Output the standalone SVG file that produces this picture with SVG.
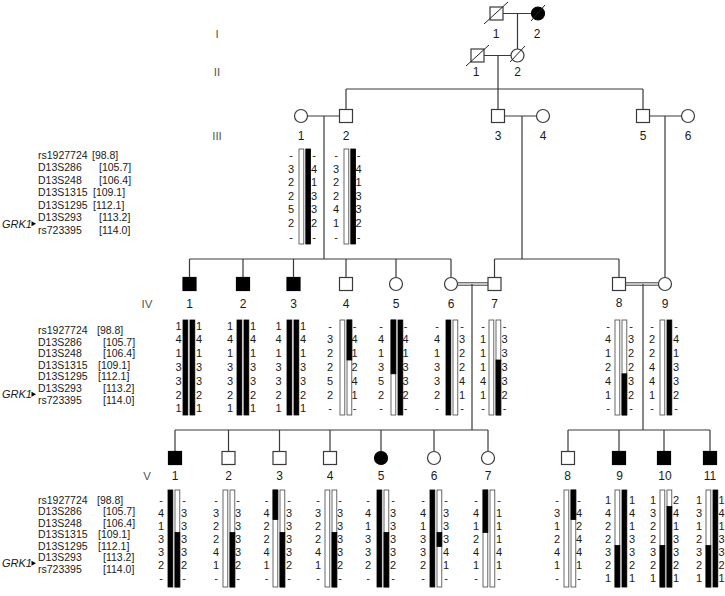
<svg xmlns="http://www.w3.org/2000/svg" width="725" height="596" viewBox="0 0 725 596">
<style>
.ln{stroke:#3a3a3a;stroke-width:1.2;fill:none}
.dbl{stroke:#3a3a3a;stroke-width:1;fill:none}
.sym{fill:#fff;stroke:#3a3a3a;stroke-width:1.2}
.aff{fill:#000;stroke:#000;stroke-width:1.2}
.sl{stroke:#222;stroke-width:1}
.bw{fill:#fff;stroke:#444;stroke-width:0.8}
.bb{fill:#000;stroke:#000;stroke-width:0.8}
text{font-family:"Liberation Sans",Arial,Helvetica,sans-serif;fill:#1a1a1a}
.al{font-size:11px;text-anchor:middle}
.mk{font-size:10.5px}
.id{font-size:12px;text-anchor:middle}
.gen{font-size:11.5px;text-anchor:middle;fill:#555}
.grk{font-size:11px;font-style:italic}
.arr{fill:#000}
</style>
<rect width="725" height="596" fill="#fff"/>

<g id="generation-labels">
<text class="gen" x="217" y="37.5">I</text>
<text class="gen" x="217" y="76">II</text>
<text class="gen" x="217" y="139.5">III</text>
<text class="gen" x="147" y="307.5">IV</text>
<text class="gen" x="147" y="480">V</text>
</g>

<g id="markers-III">
<text class="mk" x="38" y="158.5">rs1927724</text><text class="mk" x="92" y="158.5">[98.8]</text>
<text class="mk" x="38" y="171">D13S286</text><text class="mk" x="99" y="171">[105.7]</text>
<text class="mk" x="38" y="183.5">D13S248</text><text class="mk" x="99" y="183.5">[106.4]</text>
<text class="mk" x="38" y="196">D13S1315</text><text class="mk" x="93" y="196">[109.1]</text>
<text class="mk" x="38" y="208.5">D13S1295</text><text class="mk" x="93" y="208.5">[112.1]</text>
<text class="mk" x="38" y="221">D13S293</text><text class="mk" x="99" y="221">[113.2]</text>
<text class="mk" x="38" y="233.5">rs723395</text><text class="mk" x="99" y="233.5">[114.0]</text>
<text class="grk" x="2" y="227.7">GRK1</text><polygon class="arr" points="31.5,221.2 36,223.7 31.5,226.2"/>
</g>

<g id="markers-IV">
<text class="mk" x="38" y="334">rs1927724</text><text class="mk" x="97" y="334">[98.8]</text>
<text class="mk" x="38" y="345.6">D13S286</text><text class="mk" x="103" y="345.6">[105.7]</text>
<text class="mk" x="38" y="357.2">D13S248</text><text class="mk" x="103" y="357.2">[106.4]</text>
<text class="mk" x="38" y="368.8">D13S1315</text><text class="mk" x="98" y="368.8">[109.1]</text>
<text class="mk" x="38" y="380.4">D13S1295</text><text class="mk" x="98" y="380.4">[112.1]</text>
<text class="mk" x="38" y="392">D13S293</text><text class="mk" x="103" y="392">[113.2]</text>
<text class="mk" x="38" y="403.6">rs723395</text><text class="mk" x="103" y="403.6">[114.0]</text>
<text class="grk" x="2" y="398.3">GRK1</text><polygon class="arr" points="31.5,391.8 36,394.3 31.5,396.8"/>
</g>

<g id="markers-V">
<text class="mk" x="38" y="503.5">rs1927724</text><text class="mk" x="97" y="503.5">[98.8]</text>
<text class="mk" x="38" y="515">D13S286</text><text class="mk" x="103" y="515">[105.7]</text>
<text class="mk" x="38" y="526.5">D13S248</text><text class="mk" x="103" y="526.5">[106.4]</text>
<text class="mk" x="38" y="538">D13S1315</text><text class="mk" x="98" y="538">[109.1]</text>
<text class="mk" x="38" y="549.5">D13S1295</text><text class="mk" x="98" y="549.5">[112.1]</text>
<text class="mk" x="38" y="561">D13S293</text><text class="mk" x="103" y="561">[113.2]</text>
<text class="mk" x="38" y="572.5">rs723395</text><text class="mk" x="103" y="572.5">[114.0]</text>
<text class="grk" x="2" y="567.2">GRK1</text><polygon class="arr" points="31.5,560.7 36,563.2 31.5,565.7"/>
</g>

<g id="connectors">
<path class="ln" d="M503 13.5H531.5M517.5 13.5V49"/>
<path class="ln" d="M484 55.5H511M498 55.5V89"/>
<path class="ln" d="M346 89H643M346 89V109.5M498 89V109.5M643 89V109.5"/>
<path class="ln" d="M307.5 116H339.5M324 116V259"/>
<path class="ln" d="M504.5 116H536.5M522 116V259"/>
<path class="ln" d="M649.5 116H681.5M665 116V277.5"/>
<path class="ln" d="M189.5 259H451M189.5 259V277.5M243 259V277.5M293.5 259V277.5M346 259V277.5M396 259V277.5M451 259V277.5"/>
<path class="ln" d="M494.5 259H619M494.5 259V277.5M619 259V277.5"/>
<path class="dbl" d="M457.5 282.8H488M457.5 285.2H488"/>
<path class="ln" d="M472 284V430"/>
<path class="dbl" d="M625.5 282.8H658.5M625.5 285.2H658.5"/>
<path class="ln" d="M643 284V430"/>
<path class="ln" d="M175 430H488M175 430V451.5M228.5 430V451.5M279.5 430V451.5M330 430V451.5M381 430V451.5M434 430V451.5M488 430V451.5"/>
<path class="ln" d="M568 430H710M568 430V451.5M619 430V451.5M664 430V451.5M710 430V451.5"/>
</g>

<g id="I-1">
<rect class="sym" x="490" y="7" width="13" height="13"/>
<line class="sl" x1="484" y1="24" x2="508" y2="2"/>
<text class="id" x="496" y="37.5">1</text>
</g>
<g id="I-2">
<circle class="aff" cx="538" cy="13.5" r="6.5"/>
<line class="sl" x1="531" y1="21" x2="545" y2="5"/>
<text class="id" x="537" y="37.5">2</text>
</g>
<g id="II-1">
<rect class="sym" x="471" y="49" width="13" height="13"/>
<line class="sl" x1="466" y1="66" x2="489" y2="45"/>
<text class="id" x="476" y="76">1</text>
</g>
<g id="II-2">
<circle class="sym" cx="517.5" cy="55.5" r="6.5"/>
<line class="sl" x1="510" y1="62" x2="525" y2="46"/>
<text class="id" x="517.5" y="76">2</text>
</g>

<g id="III-1">
<circle class="sym" cx="301" cy="116" r="6.5"/>
<text class="id" x="301" y="139.5">1</text>
<rect class="bw" x="299" y="149" width="4.8" height="95"/>
<rect class="bb" x="305.8" y="149" width="4.8" height="95"/>
<text class="al"><tspan x="291" y="159">-</tspan><tspan x="291" y="172.6">3</tspan><tspan x="291" y="186.2">2</tspan><tspan x="291" y="199.8">2</tspan><tspan x="291" y="213.4">5</tspan><tspan x="291" y="227">2</tspan><tspan x="291" y="240.6">-</tspan></text>
<text class="al"><tspan x="314" y="159">-</tspan><tspan x="314" y="172.6">4</tspan><tspan x="314" y="186.2">1</tspan><tspan x="314" y="199.8">3</tspan><tspan x="314" y="213.4">3</tspan><tspan x="314" y="227">2</tspan><tspan x="314" y="240.6">-</tspan></text>
</g>
<g id="III-2">
<rect class="sym" x="339.5" y="109.5" width="13" height="13"/>
<text class="id" x="346" y="139.5">2</text>
<rect class="bw" x="344" y="149" width="4.8" height="95"/>
<rect class="bb" x="350.8" y="149" width="4.8" height="95"/>
<text class="al"><tspan x="336" y="159">-</tspan><tspan x="336" y="172.6">3</tspan><tspan x="336" y="186.2">2</tspan><tspan x="336" y="199.8">2</tspan><tspan x="336" y="213.4">4</tspan><tspan x="336" y="227">1</tspan><tspan x="336" y="240.6">-</tspan></text>
<text class="al"><tspan x="358.5" y="159">-</tspan><tspan x="358.5" y="172.6">4</tspan><tspan x="358.5" y="186.2">1</tspan><tspan x="358.5" y="199.8">3</tspan><tspan x="358.5" y="213.4">3</tspan><tspan x="358.5" y="227">2</tspan><tspan x="358.5" y="240.6">-</tspan></text>
</g>
<g id="III-3">
<rect class="sym" x="491.5" y="109.5" width="13" height="13"/>
<text class="id" x="498" y="139.5">3</text>
</g>
<g id="III-4">
<circle class="sym" cx="543" cy="116" r="6.5"/>
<text class="id" x="543" y="139.5">4</text>
</g>
<g id="III-5">
<rect class="sym" x="636.5" y="109.5" width="13" height="13"/>
<text class="id" x="643" y="139.5">5</text>
</g>
<g id="III-6">
<circle class="sym" cx="688" cy="116" r="6.5"/>
<text class="id" x="688" y="139.5">6</text>
</g>

<g id="IV-1">
<rect class="aff" x="183" y="277.5" width="13" height="13"/>
<text class="id" x="189.5" y="307.5">1</text>
<rect class="bb" x="183" y="320" width="4.8" height="95"/>
<rect class="bb" x="190" y="320" width="4.8" height="95"/>
<text class="al"><tspan x="178.5" y="329.5">1</tspan><tspan x="178.5" y="343.3">4</tspan><tspan x="178.5" y="357.1">1</tspan><tspan x="178.5" y="370.9">3</tspan><tspan x="178.5" y="384.7">3</tspan><tspan x="178.5" y="398.5">2</tspan><tspan x="178.5" y="412.3">1</tspan></text>
<text class="al"><tspan x="199" y="329.5">1</tspan><tspan x="199" y="343.3">4</tspan><tspan x="199" y="357.1">1</tspan><tspan x="199" y="370.9">3</tspan><tspan x="199" y="384.7">3</tspan><tspan x="199" y="398.5">2</tspan><tspan x="199" y="412.3">1</tspan></text>
</g>
<g id="IV-2">
<rect class="aff" x="236.5" y="277.5" width="13" height="13"/>
<text class="id" x="243" y="307.5">2</text>
<rect class="bb" x="237" y="320" width="4.8" height="95"/>
<rect class="bb" x="244" y="320" width="4.8" height="95"/>
<text class="al"><tspan x="230" y="329.5">1</tspan><tspan x="230" y="343.3">4</tspan><tspan x="230" y="357.1">1</tspan><tspan x="230" y="370.9">3</tspan><tspan x="230" y="384.7">3</tspan><tspan x="230" y="398.5">2</tspan><tspan x="230" y="412.3">1</tspan></text>
<text class="al"><tspan x="253" y="329.5">1</tspan><tspan x="253" y="343.3">4</tspan><tspan x="253" y="357.1">1</tspan><tspan x="253" y="370.9">3</tspan><tspan x="253" y="384.7">3</tspan><tspan x="253" y="398.5">2</tspan><tspan x="253" y="412.3">1</tspan></text>
</g>
<g id="IV-3">
<rect class="aff" x="287" y="277.5" width="13" height="13"/>
<text class="id" x="293.5" y="307.5">3</text>
<rect class="bb" x="287" y="320" width="4.8" height="95"/>
<rect class="bb" x="294" y="320" width="4.8" height="95"/>
<text class="al"><tspan x="278.5" y="329.5">1</tspan><tspan x="278.5" y="343.3">4</tspan><tspan x="278.5" y="357.1">1</tspan><tspan x="278.5" y="370.9">3</tspan><tspan x="278.5" y="384.7">3</tspan><tspan x="278.5" y="398.5">2</tspan><tspan x="278.5" y="412.3">1</tspan></text>
<text class="al"><tspan x="303" y="329.5">1</tspan><tspan x="303" y="343.3">4</tspan><tspan x="303" y="357.1">1</tspan><tspan x="303" y="370.9">3</tspan><tspan x="303" y="384.7">3</tspan><tspan x="303" y="398.5">2</tspan><tspan x="303" y="412.3">1</tspan></text>
</g>
<g id="IV-4">
<rect class="sym" x="339.5" y="277.5" width="13" height="13"/>
<text class="id" x="346" y="307.5">4</text>
<rect class="bw" x="340" y="320" width="4.8" height="95"/>
<rect class="bw" x="347" y="320" width="4.8" height="95"/>
<rect class="bb" x="347" y="320" width="4.8" height="40"/>
<text class="al"><tspan x="330" y="329.5">-</tspan><tspan x="330" y="343.3">3</tspan><tspan x="330" y="357.1">2</tspan><tspan x="330" y="370.9">2</tspan><tspan x="330" y="384.7">5</tspan><tspan x="330" y="398.5">2</tspan><tspan x="330" y="412.3">-</tspan></text>
<text class="al"><tspan x="354.5" y="329.5">-</tspan><tspan x="354.5" y="343.3">4</tspan><tspan x="354.5" y="357.1">1</tspan><tspan x="354.5" y="370.9">2</tspan><tspan x="354.5" y="384.7">4</tspan><tspan x="354.5" y="398.5">1</tspan><tspan x="354.5" y="412.3">-</tspan></text>
</g>
<g id="IV-5">
<circle class="sym" cx="396" cy="284" r="6.5"/>
<text class="id" x="396" y="307.5">5</text>
<rect class="bw" x="391" y="320" width="4.8" height="95"/>
<rect class="bb" x="391" y="320" width="4.8" height="53.8"/>
<rect class="bb" x="398" y="320" width="4.8" height="95"/>
<text class="al"><tspan x="381" y="329.5">-</tspan><tspan x="381" y="343.3">4</tspan><tspan x="381" y="357.1">1</tspan><tspan x="381" y="370.9">3</tspan><tspan x="381" y="384.7">5</tspan><tspan x="381" y="398.5">2</tspan><tspan x="381" y="412.3">-</tspan></text>
<text class="al"><tspan x="405.5" y="329.5">-</tspan><tspan x="405.5" y="343.3">4</tspan><tspan x="405.5" y="357.1">1</tspan><tspan x="405.5" y="370.9">3</tspan><tspan x="405.5" y="384.7">3</tspan><tspan x="405.5" y="398.5">2</tspan><tspan x="405.5" y="412.3">-</tspan></text>
</g>
<g id="IV-6">
<circle class="sym" cx="451" cy="284" r="6.5"/>
<text class="id" x="451" y="307.5">6</text>
<rect class="bb" x="446" y="320" width="4.8" height="95"/>
<rect class="bw" x="453" y="320" width="4.8" height="95"/>
<text class="al"><tspan x="437" y="329.5">-</tspan><tspan x="437" y="343.3">4</tspan><tspan x="437" y="357.1">1</tspan><tspan x="437" y="370.9">3</tspan><tspan x="437" y="384.7">3</tspan><tspan x="437" y="398.5">2</tspan><tspan x="437" y="412.3">-</tspan></text>
<text class="al"><tspan x="462" y="329.5">-</tspan><tspan x="462" y="343.3">3</tspan><tspan x="462" y="357.1">2</tspan><tspan x="462" y="370.9">2</tspan><tspan x="462" y="384.7">4</tspan><tspan x="462" y="398.5">1</tspan><tspan x="462" y="412.3">-</tspan></text>
</g>
<g id="IV-7">
<rect class="sym" x="488" y="277.5" width="13" height="13"/>
<text class="id" x="494.5" y="307.5">7</text>
<rect class="bw" x="489" y="320" width="4.8" height="95"/>
<rect class="bw" x="496" y="320" width="4.8" height="95"/>
<rect class="bb" x="496" y="360" width="4.8" height="55"/>
<text class="al"><tspan x="483" y="329.5">-</tspan><tspan x="483" y="343.3">1</tspan><tspan x="483" y="357.1">1</tspan><tspan x="483" y="370.9">1</tspan><tspan x="483" y="384.7">4</tspan><tspan x="483" y="398.5">1</tspan><tspan x="483" y="412.3">-</tspan></text>
<text class="al"><tspan x="504.5" y="329.5">-</tspan><tspan x="504.5" y="343.3">3</tspan><tspan x="504.5" y="357.1">3</tspan><tspan x="504.5" y="370.9">3</tspan><tspan x="504.5" y="384.7">3</tspan><tspan x="504.5" y="398.5">2</tspan><tspan x="504.5" y="412.3">-</tspan></text>
</g>
<g id="IV-8">
<rect class="sym" x="612.5" y="277.5" width="13" height="13"/>
<text class="id" x="619" y="306.5">8</text>
<rect class="bw" x="615" y="320" width="4.8" height="95"/>
<rect class="bw" x="622" y="320" width="4.8" height="95"/>
<rect class="bb" x="622" y="373.8" width="4.8" height="41.2"/>
<text class="al"><tspan x="608" y="329.5">-</tspan><tspan x="608" y="343.3">4</tspan><tspan x="608" y="357.1">1</tspan><tspan x="608" y="370.9">2</tspan><tspan x="608" y="384.7">4</tspan><tspan x="608" y="398.5">1</tspan><tspan x="608" y="412.3">-</tspan></text>
<text class="al"><tspan x="631" y="329.5">-</tspan><tspan x="631" y="343.3">3</tspan><tspan x="631" y="357.1">2</tspan><tspan x="631" y="370.9">2</tspan><tspan x="631" y="384.7">3</tspan><tspan x="631" y="398.5">2</tspan><tspan x="631" y="412.3">-</tspan></text>
</g>
<g id="IV-9">
<circle class="sym" cx="665" cy="284" r="6.5"/>
<text class="id" x="665" y="307.5">9</text>
<rect class="bw" x="660" y="320" width="4.8" height="95"/>
<rect class="bb" x="667" y="320" width="4.8" height="95"/>
<text class="al"><tspan x="652" y="329.5">-</tspan><tspan x="652" y="343.3">2</tspan><tspan x="652" y="357.1">2</tspan><tspan x="652" y="370.9">4</tspan><tspan x="652" y="384.7">4</tspan><tspan x="652" y="398.5">1</tspan><tspan x="652" y="412.3">-</tspan></text>
<text class="al"><tspan x="676" y="329.5">-</tspan><tspan x="676" y="343.3">4</tspan><tspan x="676" y="357.1">1</tspan><tspan x="676" y="370.9">3</tspan><tspan x="676" y="384.7">3</tspan><tspan x="676" y="398.5">2</tspan><tspan x="676" y="412.3">-</tspan></text>
</g>

<g id="V-1">
<rect class="aff" x="168.5" y="451.5" width="13" height="13"/>
<text class="id" x="175" y="480">1</text>
<rect class="bb" x="168" y="490" width="4.8" height="97"/>
<rect class="bw" x="175" y="490" width="4.8" height="97"/>
<rect class="bb" x="175" y="532.5" width="4.8" height="54.5"/>
<text class="al"><tspan x="161" y="504">-</tspan><tspan x="161" y="517">4</tspan><tspan x="161" y="530">1</tspan><tspan x="161" y="543">3</tspan><tspan x="161" y="556">3</tspan><tspan x="161" y="569">2</tspan><tspan x="161" y="582">-</tspan></text>
<text class="al"><tspan x="184" y="504">-</tspan><tspan x="184" y="517">3</tspan><tspan x="184" y="530">3</tspan><tspan x="184" y="543">3</tspan><tspan x="184" y="556">3</tspan><tspan x="184" y="569">2</tspan><tspan x="184" y="582">-</tspan></text>
</g>
<g id="V-2">
<rect class="sym" x="222" y="451.5" width="13" height="13"/>
<text class="id" x="228.5" y="480">2</text>
<rect class="bw" x="223" y="490" width="4.8" height="97"/>
<rect class="bw" x="230" y="490" width="4.8" height="97"/>
<rect class="bb" x="230" y="532.5" width="4.8" height="54.5"/>
<text class="al"><tspan x="216" y="504">-</tspan><tspan x="216" y="517">3</tspan><tspan x="216" y="530">2</tspan><tspan x="216" y="543">2</tspan><tspan x="216" y="556">4</tspan><tspan x="216" y="569">1</tspan><tspan x="216" y="582">-</tspan></text>
<text class="al"><tspan x="238" y="504">-</tspan><tspan x="238" y="517">3</tspan><tspan x="238" y="530">3</tspan><tspan x="238" y="543">3</tspan><tspan x="238" y="556">3</tspan><tspan x="238" y="569">2</tspan><tspan x="238" y="582">-</tspan></text>
</g>
<g id="V-3">
<rect class="sym" x="273" y="451.5" width="13" height="13"/>
<text class="id" x="279.5" y="480">3</text>
<rect class="bw" x="273" y="490" width="4.8" height="97"/>
<rect class="bb" x="273" y="490" width="4.8" height="29.5"/>
<rect class="bw" x="280" y="490" width="4.8" height="97"/>
<rect class="bb" x="280" y="532.5" width="4.8" height="54.5"/>
<text class="al"><tspan x="266.5" y="504">-</tspan><tspan x="266.5" y="517">4</tspan><tspan x="266.5" y="530">2</tspan><tspan x="266.5" y="543">2</tspan><tspan x="266.5" y="556">4</tspan><tspan x="266.5" y="569">1</tspan><tspan x="266.5" y="582">-</tspan></text>
<text class="al"><tspan x="289" y="504">-</tspan><tspan x="289" y="517">3</tspan><tspan x="289" y="530">3</tspan><tspan x="289" y="543">3</tspan><tspan x="289" y="556">3</tspan><tspan x="289" y="569">2</tspan><tspan x="289" y="582">-</tspan></text>
</g>
<g id="V-4">
<rect class="sym" x="323.5" y="451.5" width="13" height="13"/>
<text class="id" x="330" y="480">4</text>
<rect class="bw" x="325" y="490" width="4.8" height="97"/>
<rect class="bw" x="332" y="490" width="4.8" height="97"/>
<rect class="bb" x="332" y="532.5" width="4.8" height="54.5"/>
<text class="al"><tspan x="318" y="504">-</tspan><tspan x="318" y="517">3</tspan><tspan x="318" y="530">2</tspan><tspan x="318" y="543">2</tspan><tspan x="318" y="556">4</tspan><tspan x="318" y="569">1</tspan><tspan x="318" y="582">-</tspan></text>
<text class="al"><tspan x="340" y="504">-</tspan><tspan x="340" y="517">3</tspan><tspan x="340" y="530">3</tspan><tspan x="340" y="543">3</tspan><tspan x="340" y="556">3</tspan><tspan x="340" y="569">2</tspan><tspan x="340" y="582">-</tspan></text>
</g>
<g id="V-5">
<circle class="aff" cx="381" cy="458" r="6.5"/>
<text class="id" x="381" y="480">5</text>
<rect class="bb" x="377" y="490" width="4.8" height="97"/>
<rect class="bw" x="384" y="490" width="4.8" height="97"/>
<rect class="bb" x="384" y="532.5" width="4.8" height="54.5"/>
<text class="al"><tspan x="368" y="504">-</tspan><tspan x="368" y="517">4</tspan><tspan x="368" y="530">1</tspan><tspan x="368" y="543">3</tspan><tspan x="368" y="556">3</tspan><tspan x="368" y="569">2</tspan><tspan x="368" y="582">-</tspan></text>
<text class="al"><tspan x="393" y="504">-</tspan><tspan x="393" y="517">3</tspan><tspan x="393" y="530">3</tspan><tspan x="393" y="543">3</tspan><tspan x="393" y="556">3</tspan><tspan x="393" y="569">2</tspan><tspan x="393" y="582">-</tspan></text>
</g>
<g id="V-6">
<circle class="sym" cx="434" cy="458" r="6.5"/>
<text class="id" x="434" y="480">6</text>
<rect class="bb" x="430" y="490" width="4.8" height="97"/>
<rect class="bw" x="437" y="490" width="4.8" height="97"/>
<rect class="bb" x="437" y="532.5" width="4.8" height="14"/>
<text class="al"><tspan x="423" y="504">-</tspan><tspan x="423" y="517">4</tspan><tspan x="423" y="530">1</tspan><tspan x="423" y="543">3</tspan><tspan x="423" y="556">3</tspan><tspan x="423" y="569">2</tspan><tspan x="423" y="582">-</tspan></text>
<text class="al"><tspan x="446" y="504">-</tspan><tspan x="446" y="517">3</tspan><tspan x="446" y="530">3</tspan><tspan x="446" y="543">3</tspan><tspan x="446" y="556">4</tspan><tspan x="446" y="569">1</tspan><tspan x="446" y="582">-</tspan></text>
</g>
<g id="V-7">
<circle class="sym" cx="488" cy="458" r="6.5"/>
<text class="id" x="488" y="480">7</text>
<rect class="bw" x="483" y="490" width="4.8" height="97"/>
<rect class="bb" x="483" y="490" width="4.8" height="42.5"/>
<rect class="bw" x="490" y="490" width="4.8" height="97"/>
<text class="al"><tspan x="476" y="504">-</tspan><tspan x="476" y="517">4</tspan><tspan x="476" y="530">1</tspan><tspan x="476" y="543">2</tspan><tspan x="476" y="556">4</tspan><tspan x="476" y="569">1</tspan><tspan x="476" y="582">-</tspan></text>
<text class="al"><tspan x="499" y="504">-</tspan><tspan x="499" y="517">1</tspan><tspan x="499" y="530">1</tspan><tspan x="499" y="543">1</tspan><tspan x="499" y="556">4</tspan><tspan x="499" y="569">1</tspan><tspan x="499" y="582">-</tspan></text>
</g>
<g id="V-8">
<rect class="sym" x="561.5" y="451.5" width="13" height="13"/>
<text class="id" x="567.5" y="480">8</text>
<rect class="bw" x="564" y="490" width="4.8" height="97"/>
<rect class="bw" x="571" y="490" width="4.8" height="97"/>
<rect class="bb" x="571" y="490" width="4.8" height="29.5"/>
<text class="al"><tspan x="557" y="504">-</tspan><tspan x="557" y="517">3</tspan><tspan x="557" y="530">1</tspan><tspan x="557" y="543">2</tspan><tspan x="557" y="556">4</tspan><tspan x="557" y="569">1</tspan><tspan x="557" y="582">-</tspan></text>
<text class="al"><tspan x="579" y="504">-</tspan><tspan x="579" y="517">4</tspan><tspan x="579" y="530">2</tspan><tspan x="579" y="543">4</tspan><tspan x="579" y="556">4</tspan><tspan x="579" y="569">1</tspan><tspan x="579" y="582">-</tspan></text>
</g>
<g id="V-9">
<rect class="aff" x="612.5" y="451.5" width="13" height="13"/>
<text class="id" x="619.5" y="480">9</text>
<rect class="bw" x="615" y="490" width="4.8" height="97"/>
<rect class="bb" x="615" y="545.5" width="4.8" height="41.5"/>
<rect class="bb" x="622" y="490" width="4.8" height="97"/>
<text class="al"><tspan x="608" y="504">1</tspan><tspan x="608" y="517">4</tspan><tspan x="608" y="530">2</tspan><tspan x="608" y="543">2</tspan><tspan x="608" y="556">3</tspan><tspan x="608" y="569">2</tspan><tspan x="608" y="582">1</tspan></text>
<text class="al"><tspan x="632" y="504">1</tspan><tspan x="632" y="517">4</tspan><tspan x="632" y="530">1</tspan><tspan x="632" y="543">3</tspan><tspan x="632" y="556">3</tspan><tspan x="632" y="569">2</tspan><tspan x="632" y="582">1</tspan></text>
</g>
<g id="V-10">
<rect class="aff" x="657.5" y="451.5" width="13" height="13"/>
<text class="id" x="665" y="480">10</text>
<rect class="bw" x="660" y="490" width="4.8" height="97"/>
<rect class="bb" x="660" y="545.5" width="4.8" height="41.5"/>
<rect class="bw" x="667" y="490" width="4.8" height="97"/>
<rect class="bb" x="667" y="506.5" width="4.8" height="80.5"/>
<text class="al"><tspan x="653" y="504">1</tspan><tspan x="653" y="517">3</tspan><tspan x="653" y="530">2</tspan><tspan x="653" y="543">2</tspan><tspan x="653" y="556">3</tspan><tspan x="653" y="569">2</tspan><tspan x="653" y="582">1</tspan></text>
<text class="al"><tspan x="676" y="504">2</tspan><tspan x="676" y="517">4</tspan><tspan x="676" y="530">1</tspan><tspan x="676" y="543">3</tspan><tspan x="676" y="556">3</tspan><tspan x="676" y="569">2</tspan><tspan x="676" y="582">1</tspan></text>
</g>
<g id="V-11">
<rect class="aff" x="703.5" y="451.5" width="13" height="13"/>
<text class="id" x="710" y="480">11</text>
<rect class="bw" x="706" y="490" width="4.8" height="97"/>
<rect class="bb" x="706" y="545.5" width="4.8" height="41.5"/>
<rect class="bb" x="713" y="490" width="4.8" height="97"/>
<text class="al"><tspan x="699" y="504">1</tspan><tspan x="699" y="517">3</tspan><tspan x="699" y="530">1</tspan><tspan x="699" y="543">2</tspan><tspan x="699" y="556">3</tspan><tspan x="699" y="569">2</tspan><tspan x="699" y="582">1</tspan></text>
<text class="al"><tspan x="721.5" y="504">1</tspan><tspan x="721.5" y="517">4</tspan><tspan x="721.5" y="530">1</tspan><tspan x="721.5" y="543">3</tspan><tspan x="721.5" y="556">3</tspan><tspan x="721.5" y="569">2</tspan><tspan x="721.5" y="582">1</tspan></text>
</g>
</svg>
